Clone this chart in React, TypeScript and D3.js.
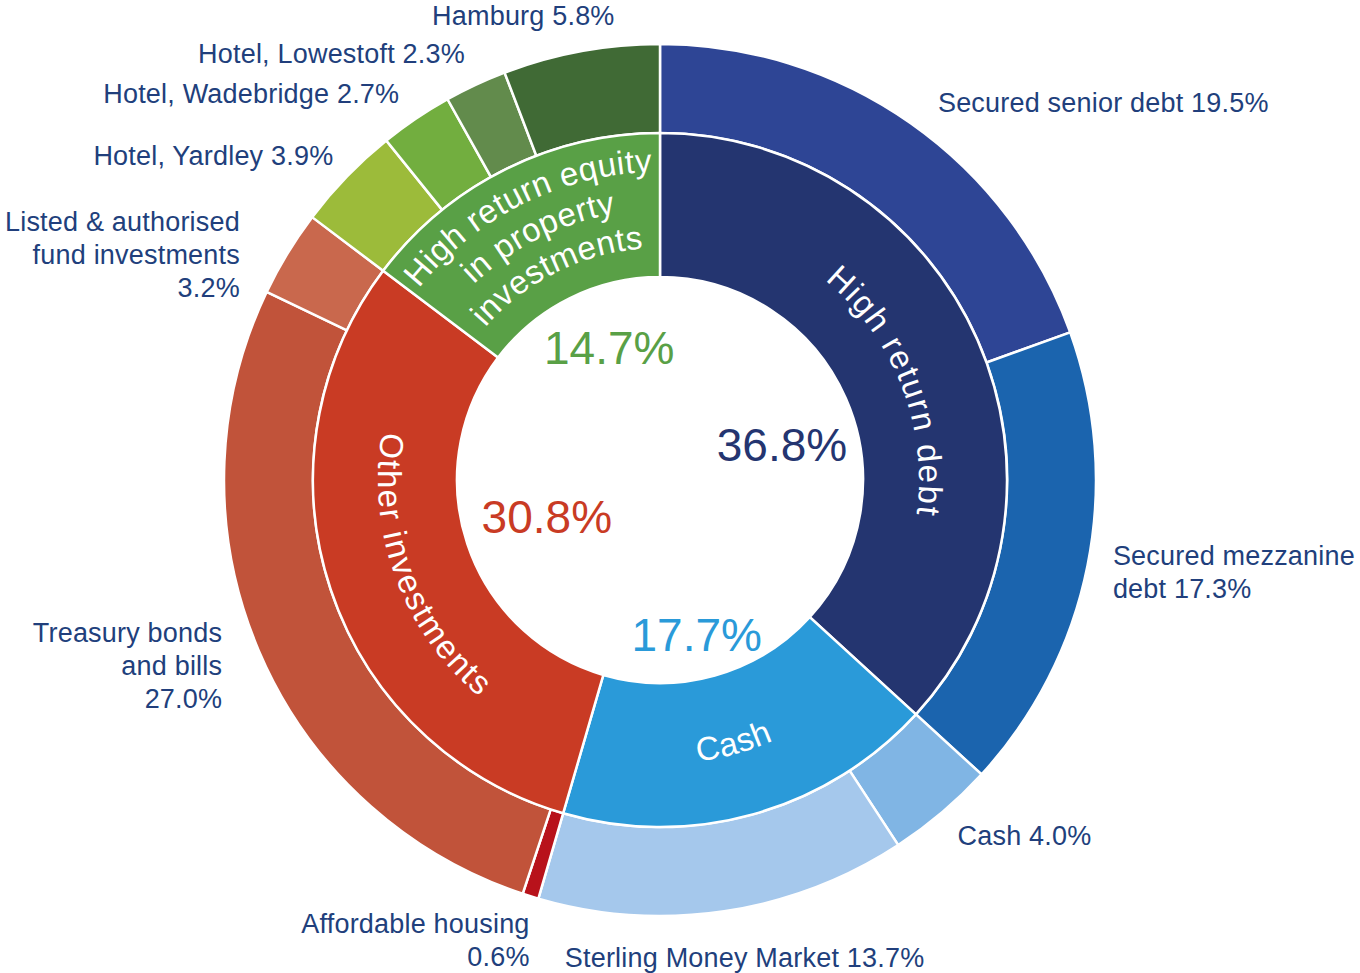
import React from 'react';
import * as d3 from 'd3';

// inner ring: asset groups
const groupNames = ['High return debt', 'Cash', 'Other investments', 'High return equity in property investments'];
const groupValues = [36.8, 17.7, 30.8, 14.7];
const groupColors = ['#243570', '#2a9ad9', '#c93b24', '#59a046'];
const groupLabelLines = [['High return debt'], ['Cash'], ['Other investments'], ['High return equity', 'in property', 'investments']];

// outer ring: holdings inside each group
const itemNames = [
  'Secured senior debt', 'Secured mezzanine debt', 'Cash', 'Sterling Money Market',
  'Affordable housing', 'Treasury bonds and bills', 'Listed & authorised fund investments',
  'Hotel, Yardley', 'Hotel, Wadebridge', 'Hotel, Lowestoft', 'Hamburg',
];
const itemValues = [19.5, 17.3, 4.0, 13.7, 0.6, 27.0, 3.2, 3.9, 2.7, 2.3, 5.8];
const itemColors = [
  '#2e4595', '#1b64ae', '#80b5e4', '#a5c8ec',
  '#b8121b', '#c1533a', '#c9684d',
  '#9cbb3a', '#72ae3f', '#628b4c', '#406a35',
];
// {v} gets the value, \n breaks the line
const itemLabels = [
  'Secured senior debt {v}', 'Secured mezzanine\ndebt {v}', 'Cash {v}', 'Sterling Money Market {v}',
  'Affordable housing\n{v}', 'Treasury bonds\nand bills\n{v}', 'Listed & authorised\nfund investments\n{v}',
  'Hotel, Yardley {v}', 'Hotel, Wadebridge {v}', 'Hotel, Lowestoft {v}', 'Hamburg {v}',
];

const W = 1360;
const H = 973;
const cx = 660;
const cy = 480;
const r0 = 203;
const r1 = 347;
const r2 = 436;
const labelR = 466;
const labelColor = '#213f7c';
const font = '"Liberation Sans", Arial, Helvetica, sans-serif';

// hand placement tweaks for the outer labels
const labelNudge: Record<string, [number, number]> = {
  'Secured senior debt': [10, 4],
  'Secured mezzanine debt': [-4, 0],
  'Cash': [-4, 0],
  'Sterling Money Market': [16, 16],
  'Affordable housing': [8, 15],
  'Treasury bonds and bills': [-9, 3],
  'Listed & authorised fund investments': [-22, 16],
  'Hotel, Yardley': [8, 0],
  'Hotel, Lowestoft': [2, -4],
  'Hamburg': [39, -6],
};
// baseline radius, tracking and angle shift (deg) of the curved group names
const innerLabelR = [259, 284, 282, 270];
const innerLabelTracking = [1.7, 0.5, 1.7, 0.5];
const innerLabelShift = [2.5, 0, -2, 0];
// percentage in the hole: [angle shift deg, radius]
const pctPos: [number, number][] = [[7.6, 127], [2.3, 159], [0.4, 119], [5.5, 142]];

const fmt = d3.format('.1f');

export default function App() {
  const pie = d3.pie<number>().sort(null).value((d) => d).startAngle(0).endAngle(2 * Math.PI);
  const groupArcs = pie(groupValues);
  const itemArcs = pie(itemValues);

  const innerArc = d3.arc<d3.PieArcDatum<number>>().innerRadius(r0).outerRadius(r1);
  const outerArc = d3.arc<d3.PieArcDatum<number>>().innerRadius(r1).outerRadius(r2);

  return (
    <svg width={W} height={H} style={{ position: 'absolute', left: 0, top: 0, fontFamily: font }}>
      <g transform={`translate(${cx},${cy})`}>
        {itemArcs.map((a, i) => (
          <path key={itemNames[i]} d={outerArc(a) || ''} fill={itemColors[i]} stroke="#fff" strokeWidth={2.5} />
        ))}
        {groupArcs.map((a, i) => (
          <path key={groupNames[i]} d={innerArc(a) || ''} fill={groupColors[i]} stroke="#fff" strokeWidth={2.5} />
        ))}

        {/* curved group names */}
        {groupArcs.map((a, i) => {
          const mid = (a.startAngle + a.endAngle) / 2 + (innerLabelShift[i] * Math.PI) / 180;
          const ccw = mid > Math.PI / 2 && mid < (3 * Math.PI) / 2;
          const lines = groupLabelLines[i];
          const span = Math.PI / 2;
          return lines.map((line, k) => {
            const r = innerLabelR[i] + ((lines.length - 1) / 2 - k) * 38 * (ccw ? -1 : 1);
            const p = d3.path();
            if (ccw) p.arc(0, 0, r, mid - Math.PI / 2 + span, mid - Math.PI / 2 - span, true);
            else p.arc(0, 0, r, mid - Math.PI / 2 - span, mid - Math.PI / 2 + span, false);
            const id = `gl-${i}-${k}`;
            return (
              <g key={id}>
                <path id={id} d={p.toString()} fill="none" />
                <text fill="#fff" fontSize={33} letterSpacing={innerLabelTracking[i]}>
                  <textPath href={`#${id}`} startOffset="50%" textAnchor="middle">
                    {line}
                  </textPath>
                </text>
              </g>
            );
          });
        })}

        {/* group percentages in the hole */}
        {groupArcs.map((a, i) => {
          const mid = (a.startAngle + a.endAngle) / 2 + (pctPos[i][0] * Math.PI) / 180;
          const r = pctPos[i][1];
          return (
            <text
              key={`pct-${i}`}
              x={r * Math.sin(mid)}
              y={-r * Math.cos(mid)}
              dy="0.36em"
              textAnchor="middle"
              fontSize={46}
              fill={groupColors[i]}
            >
              {fmt(groupValues[i])}%
            </text>
          );
        })}

        {/* outer labels */}
        {itemArcs.map((a, i) => {
          const mid = (a.startAngle + a.endAngle) / 2;
          const s = Math.sin(mid);
          const c = Math.cos(mid);
          const nudge = labelNudge[itemNames[i]] || [0, 0];
          const x = labelR * s + nudge[0];
          const y = -labelR * c + nudge[1];
          const anchor = Math.abs(s) < 0.2 && c < 0 ? 'middle' : s > 0 ? 'start' : 'end';
          const lines = itemLabels[i].replace('{v}', fmt(itemValues[i]) + '%').split('\n');
          return (
            <text key={`lab-${i}`} textAnchor={anchor} fontSize={27} letterSpacing={0.2} fill={labelColor}>
              {lines.map((line, k) => (
                <tspan key={k} x={x} y={y + (k - (lines.length - 1) / 2) * 33} dy="0.36em">
                  {line}
                </tspan>
              ))}
            </text>
          );
        })}
      </g>
    </svg>
  );
}
